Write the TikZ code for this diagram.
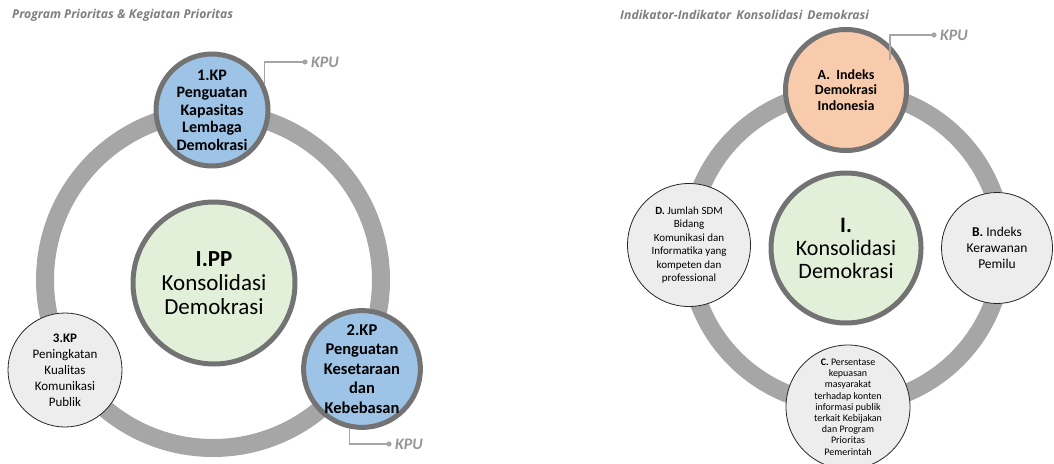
\documentclass[tikz,border=0pt]{standalone}
\usepackage{fontspec}
\setmainfont{Carlito}
\newfontfamily\titlefont{Open Sans}
\usetikzlibrary{calc}
\definecolor{kpblue}{HTML}{9DC3E6}
\definecolor{rimgray}{HTML}{737373}
\definecolor{ringgray}{HTML}{A6A6A6}
\definecolor{ppgreen}{HTML}{E2F0D9}
\definecolor{indpeach}{HTML}{F8CBAD}
\definecolor{palegray}{HTML}{EDEDED}
\definecolor{kpugray}{HTML}{A5A5A5}
\definecolor{kputext}{HTML}{959595}
\definecolor{titlegray}{HTML}{7F7F7F}

\begin{document}
\begin{tikzpicture}[x=1pt,y=-1pt,
  ring/.style={draw=ringgray,line width=18pt},
  thick rim/.style={circle,draw=rimgray,line width=5pt,align=center,inner sep=0pt},
  thin rim/.style={circle,draw=black!85,line width=.8pt,fill=palegray,align=center,inner sep=0pt},
  ttl/.style={anchor=west,inner sep=0pt,text=titlegray,font=\titlefont\bfseries\itshape\fontsize{12.2}{14}\selectfont},
  kpu/.style={anchor=west,inner sep=0pt,text=kputext,font=\bfseries\itshape\fontsize{16}{18}\selectfont},
  callout/.style={draw=kpugray,line width=1.3pt}]
\useasboundingbox (0,0) rectangle (1054,463);
% left picture: program prioritas
\node[ttl] (ttlpp) at (12,15) {Program Prioritas \& Kegiatan Prioritas};
\draw[ring] (213,280) circle (168pt);
\node[thick rim,fill=ppgreen,minimum size=162pt,font=\fontsize{23}{24}\selectfont] (pp) at (214,283)
  {\textbf{I.PP}\\Konsolidasi\\Demokrasi};
\node[thick rim,fill=kpblue,minimum size=112pt,font=\bfseries\fontsize{16}{17.5}\selectfont] (kpa) at (212,110)
  {1.KP\\Penguatan\\Kapasitas\\Lembaga\\Demokrasi};
\node[thick rim,fill=kpblue,minimum size=112pt,font=\bfseries\fontsize{16.5}{19.5}\selectfont] (kpb) at (362,369)
  {2.KP\\Penguatan\\Kesetaraan\\dan\\Kebebasan};
\node[thin rim,minimum size=114pt,font=\fontsize{13}{16}\selectfont] (kpc) at (65,370)
  {\textbf{3.KP}\\Peningkatan\\Kualitas\\Komunikasi\\Publik};
% kpu callouts
\node[kpu] (kpuone) at (311,62) {KPU};
\node[kpu] (kputwo) at (395,444) {KPU};
\draw[callout] (kpa.26) |- ([xshift=-6pt]kpuone.west);
\fill[kpugray] ([xshift=-6pt]kpuone.west) circle (2.6pt);
\draw[callout] (kpb.-102) |- ([xshift=-6pt]kputwo.west);
\fill[kpugray] ([xshift=-6pt]kputwo.west) circle (2.6pt);

% right picture: indikator
\node[ttl] (ttlind) at (620,15) {Indikator-Indikator\hspace{5pt}Konsolidasi\hspace{5pt}Demokrasi};
\draw[ring] (846,248) circle (157pt);
\node[thick rim,fill=ppgreen,minimum size=150pt,font=\fontsize{22}{23}\selectfont] (ikd) at (846,248)
  {\textbf{I.}\\Konsolidasi\\Demokrasi};
\node[thick rim,fill=indpeach,minimum size=121pt,font=\bfseries\fontsize{14}{15.5}\selectfont] (inda) at (846,90)
  {A.\ \ Indeks\\Demokrasi\\Indonesia};
\node[thin rim,minimum size=111pt,font=\fontsize{13.5}{16}\selectfont] (indb) at (997,248)
  {\textbf{B.} Indeks\\Kerawanan\\Pemilu};
\node[thin rim,minimum size=124pt,font=\fontsize{10}{11.2}\selectfont] (indc) at (848,407)
  {\textbf{C.} Persentase\\kepuasan\\masyarakat\\terhadap konten\\informasi publik\\terkait Kebijakan\\dan Program\\Prioritas\\Pemerintah};
\node[thin rim,minimum size=123pt,font=\fontsize{11}{13.5}\selectfont] (indd) at (689,245)
  {\textbf{D.} Jumlah SDM\\Bidang\\Komunikasi dan\\Informatika yang\\kompeten dan\\professional};
\node[kpu] (kputhree) at (940,35) {KPU};
\draw[callout] ($(inda.center)+(44,-30)$) |- ([xshift=-6pt]kputhree.west);
\fill[kpugray] ([xshift=-6pt]kputhree.west) circle (2.6pt);
\end{tikzpicture}
\end{document}
